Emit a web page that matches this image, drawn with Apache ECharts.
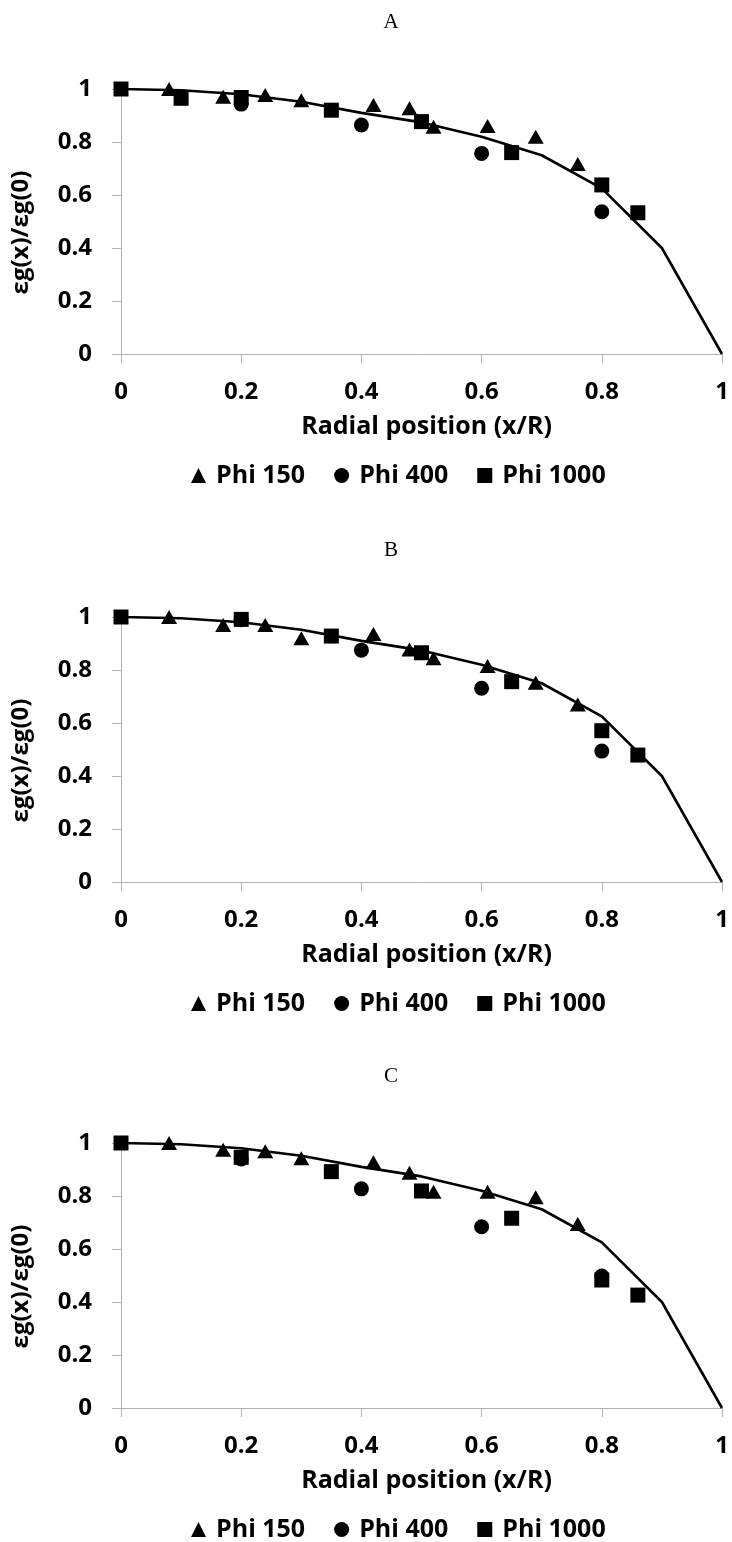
<!DOCTYPE html>
<html><head><meta charset="utf-8">
<script src="https://cdn.jsdelivr.net/npm/echarts@6/dist/echarts.min.js"></script>
<style>html,body{margin:0;padding:0;background:#fff}#c{width:732px;height:1542px}</style>
</head><body><div id="c"></div>
<script>
// ---- data ----
const panelTitles = ['A', 'B', 'C'];
const seriesNames = ['Phi 150', 'Phi 400', 'Phi 1000'];
const modelX = [0, 0.1, 0.2, 0.3, 0.4, 0.5, 0.6, 0.7, 0.8, 0.9, 1];
const modelY = [1, 0.995, 0.98, 0.952, 0.91, 0.874, 0.82, 0.75, 0.625, 0.4, 0];

const phi150X = [0.08, 0.17, 0.24, 0.30, 0.42, 0.48, 0.52, 0.61, 0.69, 0.76];
const phi150A = [1.0, 0.971, 0.977, 0.958, 0.94, 0.927, 0.858, 0.86, 0.82, 0.717];
const phi150B = [1.0, 0.97, 0.97, 0.92, 0.936, 0.877, 0.844, 0.815, 0.752, 0.67];
const phi150C = [1.0, 0.975, 0.969, 0.942, 0.927, 0.888, 0.816, 0.816, 0.795, 0.694];

const phi400X = [0.2, 0.4, 0.6, 0.8];
const phi400A = [0.943, 0.864, 0.757, 0.537];
const phi400B = [0.99, 0.875, 0.731, 0.494];
const phi400C = [0.94, 0.827, 0.684, 0.498];

const phi1000XA = [0, 0.1, 0.2, 0.35, 0.5, 0.65, 0.8, 0.86];
const phi1000A = [1.0, 0.965, 0.968, 0.92, 0.877, 0.76, 0.638, 0.533];
const phi1000X = [0, 0.2, 0.35, 0.5, 0.65, 0.8, 0.86];
const phi1000B = [1.0, 0.991, 0.928, 0.865, 0.756, 0.571, 0.479];
const phi1000C = [1.0, 0.946, 0.892, 0.819, 0.716, 0.483, 0.426];

const xTicks = [0, 0.2, 0.4, 0.6, 0.8, 1];
const yTicks = [0, 0.2, 0.4, 0.6, 0.8, 1];

const panels = [
  { p150: phi150A, p400: phi400A, p1000x: phi1000XA, p1000: phi1000A },
  { p150: phi150B, p400: phi400B, p1000x: phi1000X, p1000: phi1000B },
  { p150: phi150C, p400: phi400C, p1000x: phi1000X, p1000: phi1000C }
];

// ---- layout ----
const FONT = "'Open Sans', 'Noto Sans', sans-serif";
const gridTops = [89, 617, 1143];
const gridH = 265;
const gridLeft = 121;
const gridW = 601;
const axisGray = '#b3b3b3';

const zip = (xs, ys) => xs.map((x, i) => [x, ys[i]]);

const option = {
  animation: false,
  backgroundColor: '#fff',
  title: [], grid: [], xAxis: [], yAxis: [], legend: [], series: []
};

panels.forEach((p, i) => {
  const top = gridTops[i];
  option.title.push({
    text: panelTitles[i], left: 386, top: top - 82, textAlign: 'center',
    textStyle: { fontFamily: "'Liberation Serif', 'Times New Roman', serif", fontWeight: 'normal', fontSize: 21, color: '#000' }
  });
  option.grid.push({ left: gridLeft, top: top, width: gridW, height: gridH });
  option.xAxis.push({
    gridIndex: i, type: 'value', min: 0, max: 1, interval: 0.2,
    name: 'Radial position (x/R)', nameLocation: 'middle', nameGap: 60,
    nameTextStyle: { fontFamily: FONT, fontWeight: 'bold', fontSize: 25, color: '#000', padding: [0, 0, 0, 10] },
    axisLine: { show: true, onZero: false, lineStyle: { color: axisGray, width: 1 } },
    axisTick: { show: true, length: 9, lineStyle: { color: axisGray } },
    axisLabel: { margin: 26, fontFamily: FONT, fontWeight: 'bold', fontSize: 24, color: '#000',
      formatter: v => String(xTicks.find(t => Math.abs(t - v) < 1e-9) ?? v) },
    splitLine: { show: false }
  });
  option.yAxis.push({
    gridIndex: i, type: 'value', min: 0, max: 1, interval: 0.2,
    name: 'εg(x)/εg(0)', nameLocation: 'middle', nameGap: 88, nameRotate: 90,
    nameTextStyle: { fontFamily: FONT, fontWeight: 'bold', fontSize: 24, color: '#000', padding: [0, 22, 0, 0] },
    axisLine: { show: true, lineStyle: { color: axisGray, width: 1 } },
    axisTick: { show: true, length: 9, lineStyle: { color: axisGray } },
    axisLabel: { margin: 29, fontFamily: FONT, fontWeight: 'bold', fontSize: 24, color: '#000',
      formatter: v => String(yTicks.find(t => Math.abs(t - v) < 1e-9) ?? v) },
    splitLine: { show: false }
  });
  option.legend.push({
    left: 186, top: top + 369, orient: 'horizontal',
    itemWidth: 15, itemHeight: 15, itemGap: 29,
    textStyle: { fontFamily: FONT, fontWeight: 'bold', fontSize: 25, color: '#000', padding: [0, 0, 0, 5] },
    selectedMode: false,
    data: [
      { name: seriesNames[0], icon: 'triangle' },
      { name: seriesNames[1], icon: 'circle' },
      { name: seriesNames[2], icon: 'rect' }
    ]
  });
  option.series.push({
    name: 'Model ' + panelTitles[i], type: 'line', xAxisIndex: i, yAxisIndex: i,
    data: zip(modelX, modelY), showSymbol: false, symbol: 'none', smooth: false,
    lineStyle: { color: '#000', width: 2.6 }, z: 2
  });
  option.series.push({
    name: seriesNames[0], type: 'scatter', xAxisIndex: i, yAxisIndex: i,
    data: zip(phi150X, p.p150), symbol: 'triangle', symbolSize: [16, 14],
    itemStyle: { color: '#000', opacity: 1 }, z: 3
  });
  option.series.push({
    name: seriesNames[1], type: 'scatter', xAxisIndex: i, yAxisIndex: i,
    data: zip(phi400X, p.p400), symbol: 'circle', symbolSize: 15,
    itemStyle: { color: '#000', opacity: 1 }, z: 4
  });
  option.series.push({
    name: seriesNames[2], type: 'scatter', xAxisIndex: i, yAxisIndex: i,
    data: zip(p.p1000x, p.p1000), symbol: 'rect', symbolSize: 15,
    itemStyle: { color: '#000', opacity: 1 }, z: 5
  });
});

const chart = echarts.init(document.getElementById('c'), null, { renderer: 'canvas' });
chart.setOption(option);
</script>
</body></html>
